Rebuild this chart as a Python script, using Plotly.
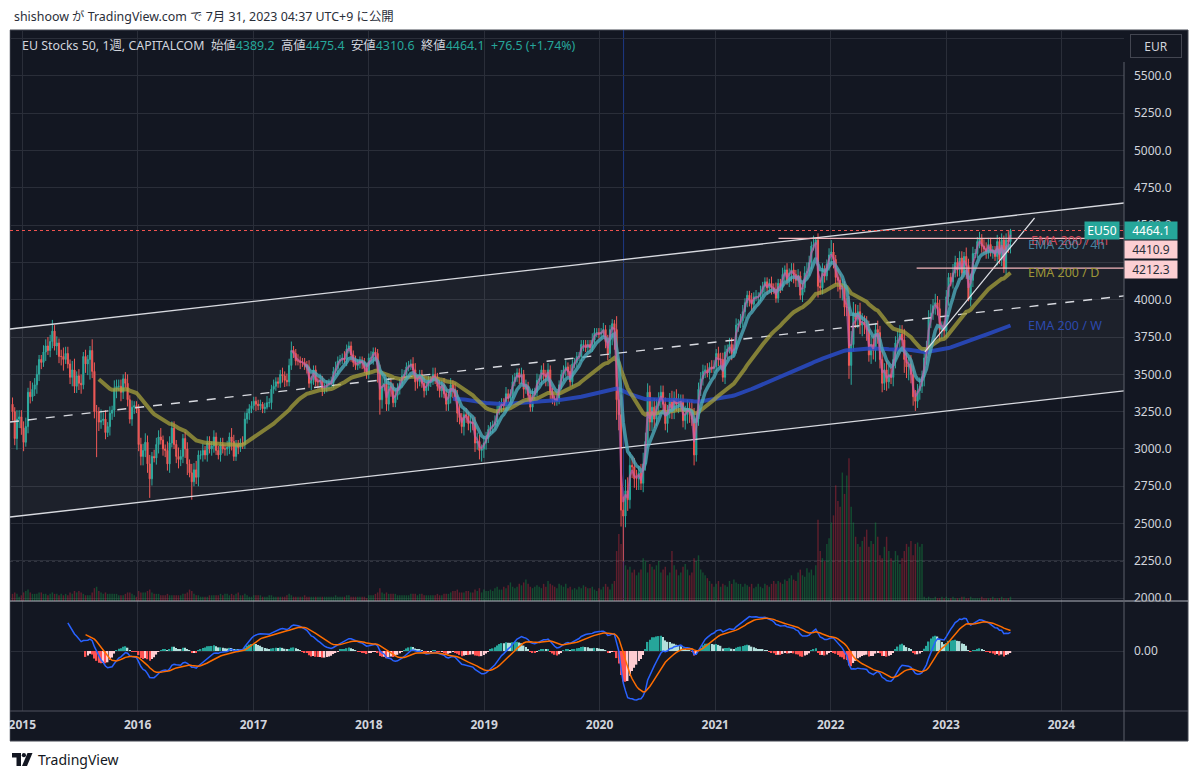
import numpy as np
import pandas as pd
import plotly.graph_objects as go

# EU Stocks 50, CAPITALCOM, weekly closes (Dec 2014 .. Jul 2023)
close_2014 = [3250, 3070, 3200, 3215, 3140]
close_2015 = [3045, 3150, 3380, 3350, 3400, 3430, 3500, 3600, 3580, 3650,
              3690, 3660, 3720, 3790, 3690, 3710, 3620, 3620, 3600, 3640,
              3570, 3480, 3530, 3420, 3490, 3440, 3430, 3620, 3570, 3600,
              3660, 3520, 3250, 3250, 3180, 3190, 3200, 3110, 3150, 3240,
              3260, 3400, 3420, 3420, 3380, 3470, 3440, 3330, 3200, 3280,
              3290, 3270]
close_2016 = [3030, 2950, 2990, 3045, 2900, 2800, 2950, 2940, 3030, 3080,
              3060, 3000, 2990, 2900, 3040, 3140, 3030, 2950, 2930, 2950,
              3070, 3000, 2900, 2840, 2780, 2860, 2810, 2960, 2960, 2990,
              2960, 3040, 3000, 3020, 3080, 2990, 2960, 3030, 3000, 3000,
              3010, 3080, 3050, 2950, 3030, 3010, 3040, 3030, 3200, 3240,
              3270, 3290]
close_2017 = [3320, 3300, 3290, 3300, 3270, 3280, 3310, 3310, 3400, 3420,
              3450, 3440, 3500, 3490, 3460, 3450, 3560, 3660, 3640, 3590,
              3590, 3580, 3580, 3560, 3550, 3440, 3460, 3530, 3450, 3450,
              3460, 3400, 3410, 3430, 3440, 3440, 3520, 3540, 3590, 3600,
              3610, 3600, 3670, 3690, 3630, 3580, 3560, 3570, 3590, 3580,
              3540, 3500]
close_2018 = [3610, 3610, 3650, 3640, 3520, 3330, 3420, 3440, 3300, 3420,
              3410, 3310, 3360, 3410, 3440, 3490, 3500, 3550, 3560, 3570,
              3530, 3450, 3450, 3500, 3440, 3390, 3420, 3460, 3460, 3500,
              3480, 3420, 3390, 3430, 3370, 3300, 3350, 3430, 3400, 3350,
              3240, 3210, 3150, 3230, 3220, 3170, 3180, 3170, 3040, 3050,
              2990, 3000]
close_2019 = [3040, 3070, 3130, 3150, 3160, 3180, 3260, 3290, 3310, 3290,
              3370, 3340, 3370, 3450, 3480, 3510, 3480, 3500, 3400, 3420,
              3360, 3280, 3360, 3380, 3460, 3470, 3530, 3500, 3480, 3530,
              3380, 3330, 3320, 3330, 3430, 3500, 3530, 3550, 3520, 3450,
              3570, 3580, 3620, 3620, 3700, 3700, 3680, 3700, 3680, 3730,
              3780, 3780]
close_2020 = [3770, 3780, 3800, 3720, 3640, 3800, 3840, 3800, 3330, 3230,
              2590, 2550, 2720, 2660, 2890, 2880, 2800, 2800, 2840, 2770,
              2900, 3050, 3380, 3180, 3280, 3200, 3290, 3320, 3380, 3300,
              3170, 3250, 3330, 3260, 3340, 3300, 3310, 3320, 3190, 3230,
              3270, 3250, 3200, 2960, 3200, 3400, 3470, 3520, 3530, 3510,
              3550, 3540]
close_2021 = [3550, 3640, 3600, 3600, 3480, 3650, 3670, 3700, 3640, 3670,
              3830, 3840, 3860, 3920, 3980, 4030, 4000, 3970, 4020, 4020,
              4020, 4050, 4090, 4120, 4080, 4110, 4080, 4070, 4010, 4110,
              4090, 4170, 4200, 4130, 4180, 4200, 4170, 4130, 4160, 4030,
              4080, 4180, 4190, 4250, 4360, 4370, 4400, 4090, 4080, 4200,
              4160, 4240]
close_2022 = [4300, 4320, 4270, 4150, 4130, 4070, 4080, 3950, 3950, 3560,
              3700, 3910, 3870, 3920, 3830, 3850, 3830, 3800, 3630, 3700,
              3660, 3800, 3780, 3600, 3440, 3530, 3450, 3500, 3480, 3600,
              3710, 3730, 3770, 3730, 3600, 3550, 3570, 3500, 3350, 3320,
              3390, 3420, 3480, 3610, 3680, 3870, 3910, 3960, 3980, 3940,
              3800, 3810]
close_2023 = [3790, 4020, 4150, 4120, 4180, 4250, 4200, 4280, 4180, 4290,
              4230, 4000, 4130, 4310, 4310, 4390, 4410, 4360, 4340, 4320,
              4370, 4320, 4330, 4290, 4390, 4270, 4400, 4210, 4400, 4389.2,
              4464.1]
first_open = 3300

# wick lengths beyond the body, one digit per week (x 15 points)
up_wick = ["32433",
           "3425 3342 2334 3523 2343 3245 2342 3225 4325 3423 2433 3234 2322",
           "2334 3423 3342 2433 3243 2332 4342 2323 3232 2332 3243 2223 3222",
           "2222 1232 2322 2323 3422 3222 2322 2232 2223 2322 2322 2232 2222",
           "2322 2353 2432 3223 2222 3322 2322 2332 3232 2323 3423 3232 3432",
           "3322 2322 2232 2322 2323 2232 3223 2322 2322 2323 2222 2222 2322",
           "2232 3225 6596 5664 4434 5443 3434 3333 3434 4334 4355 3333 2323",
           "3233 3323 3232 3322 2323 2322 2232 3223 2323 3232 2343 2453 3322",
           "3342 4343 4565 4344 3444 4343 4344 3434 4453 3443 3434 3443 4343",
           "3322 4323 3243 3322 3233 3322 3232 343"]
down_wick = ["43543",
             "4233 2343 3242 3324 3452 2343 3342 4593 3343 2324 3342 4323 2332",
             "3443 4532 3423 3342 2343 3452 3234 2323 2332 2323 3342 2322 2232",
             "2322 2212 3222 2332 2222 2322 3232 2323 2222 2232 2232 3222 2322",
             "2233 5342 3342 2232 2222 3432 2322 3232 3323 3342 4334 3343 4343",
             "4322 3222 3232 2222 3342 3222 2233 4432 2222 3322 2222 2322 2222",
             "2223 3279 9757 5545 4553 4334 4434 3334 3443 4434 4532 3333 3232",
             "2234 2332 3223 2332 3322 3223 3232 2232 3234 4332 3232 3265 3332",
             "3443 5454 4643 4445 4534 4554 4343 3445 4465 6443 3434 3343 4354",
             "3342 3233 3262 3322 3323 3232 4232 355"]

# notable weekly extremes (high, low)
extremes = {
    "2015-04-13": (3830, None), "2015-08-24": (None, 2945),
    "2016-02-08": (None, 2672), "2016-06-20": (None, 2660),
    "2018-02-05": (None, 3230), "2018-12-24": (None, 2915),
    "2020-02-17": (3865, None), "2020-03-09": (None, 2480),
    "2020-03-16": (None, 2250), "2020-10-26": (None, 2890),
    "2021-11-15": (4415, None), "2022-01-03": (4400, None),
    "2022-03-07": (None, 3430), "2022-09-26": (None, 3255),
    "2023-03-13": (None, 3990), "2023-07-24": (4475.4, 4310.6),
}

# volume (relative units, 100 = tallest bar)
vol_2014 = [5, 6, 5, 3, 4]
vol_2015 = [6, 7, 8, 6, 5, 5, 5, 6, 6, 5, 5, 4, 5, 6, 5, 5, 4, 5, 4, 5, 4, 6, 5, 7, 6, 7,
            6, 5, 4, 4, 4, 6, 9, 10, 7, 6, 5, 6, 5, 5, 5, 5, 5, 4, 4, 4, 5, 6, 6, 5, 4, 3]
vol_2016 = [7, 6, 6, 6, 7, 8, 6, 5, 5, 5, 4, 4, 4, 5, 4, 4, 4, 4, 4, 4, 5, 5, 6, 8, 7, 5,
            4, 4, 3, 3, 3, 3, 4, 4, 4, 4, 4, 5, 4, 5, 5, 4, 5, 4, 5, 6, 4, 4, 5, 4, 3, 3]
vol_2017 = [4, 4, 4, 4, 3, 3, 3, 4, 4, 3, 3, 3, 3, 3, 3, 4, 5, 4, 3, 3, 3, 3, 3, 4, 3, 3,
            3, 3, 3, 3, 3, 3, 3, 3, 3, 3, 3, 4, 3, 3, 3, 3, 4, 4, 3, 3, 3, 3, 3, 3, 3, 2]
vol_2018 = [4, 4, 4, 5, 6, 9, 6, 5, 6, 5, 5, 5, 5, 4, 4, 4, 4, 4, 4, 5, 5, 5, 4, 5, 5, 4,
            4, 4, 4, 4, 4, 5, 4, 4, 5, 5, 5, 6, 7, 7, 8, 6, 6, 6, 7, 7, 6, 6, 8, 7, 9, 6]
vol_2019 = [8, 7, 7, 8, 7, 9, 10, 8, 8, 10, 9, 11, 13, 10, 9, 10, 12, 11, 13, 15, 12, 10,
            9, 10, 11, 10, 9, 12, 10, 14, 12, 11, 10, 9, 12, 11, 10, 12, 9, 10, 8, 9, 8,
            10, 9, 11, 10, 9, 9, 10, 8, 7]
vol_2020 = [9, 8, 10, 12, 10, 8, 12, 14, 35, 47, 40, 28, 25, 22, 24, 20, 22, 18, 20, 22,
            30, 28, 20, 26, 24, 22, 25, 28, 20, 22, 24, 18, 20, 35, 25, 22, 18, 20, 24,
            26, 22, 18, 20, 30, 28, 32, 22, 20, 18, 16, 14, 12]
vol_2021 = [10, 12, 14, 10, 12, 11, 10, 14, 12, 15, 13, 12, 12, 10, 12, 11, 10, 12, 9,
            10, 12, 10, 9, 12, 11, 10, 12, 14, 12, 14, 13, 12, 15, 14, 16, 18, 15, 14,
            20, 22, 18, 17, 23, 20, 22, 18, 25, 57, 35, 30, 28, 40]
vol_2022 = [44, 55, 60, 81, 70, 66, 90, 75, 88, 100, 66, 55, 45, 40, 38, 42, 45, 50, 38,
            42, 40, 55, 45, 32, 30, 38, 45, 35, 30, 28, 35, 32, 26, 30, 35, 40, 38, 42,
            32, 40, 41, 38, 40, 3, 2, 3, 2, 2, 3, 2, 2, 3]
vol_2023 = [2, 3, 2, 2, 3, 2, 2, 2, 3, 3, 2, 2, 3, 2, 2, 2, 2, 3, 2, 2, 2, 2, 3, 2, 2, 2,
            3, 2, 2, 2, 3]

# drawings on the chart: (date, price) end points
channel_upper = [("2014-11-23", 3804), ("2024-07-17", 4649)]
channel_lower = [("2014-11-23", 2544), ("2024-07-17", 3389)]
channel_mid = [("2014-11-23", 3181), ("2024-07-17", 4026)]
trend_line = [("2022-10-26", 3650), ("2023-10-08", 4548)]
level_high = [("2021-07-20", 4410.9), ("2024-07-17", 4410.9)]
level_low = [("2022-09-30", 4212.3), ("2024-07-17", 4212.3)]
covid_line_date = "2020-03-17"
dotted_level = 2250
last_close = 4464.1

price_ticks = [2000, 2250, 2500, 2750, 3000, 3250, 3500, 3750, 4000, 4250, 4500,
               4750, 5000, 5250, 5500, 5750]
hidden_price_labels = [4250, 5750]   # covered by the price boxes / currency button
year_ticks = ["2015", "2016", "2017", "2018", "2019", "2020", "2021", "2022", "2023", "2024"]
x_range = ["2014-11-23", "2024-07-17"]
ema_1h_start = "2017-05-01"
ema_4h_start = "2017-06-12"

# ---------------------------------------------------------------------------
closes = np.array(close_2014 + close_2015 + close_2016 + close_2017 + close_2018 +
                  close_2019 + close_2020 + close_2021 + close_2022 + close_2023, float)
volume = np.array(vol_2014 + vol_2015 + vol_2016 + vol_2017 + vol_2018 + vol_2019 +
                  vol_2020 + vol_2021 + vol_2022 + vol_2023, float)
dates = pd.date_range("2014-12-01", periods=len(closes), freq="W-MON")

upw = np.array([int(c) for c in "".join(up_wick).replace(" ", "")]) * 15.0
dnw = np.array([int(c) for c in "".join(down_wick).replace(" ", "")]) * 15.0

opens = np.r_[first_open, closes[:-1]]
highs = np.maximum(opens, closes) + upw
lows = np.minimum(opens, closes) - dnw
for d, (h, l) in extremes.items():
    i = dates.get_loc(pd.Timestamp(d))
    if h is not None:
        highs[i] = h
    if l is not None:
        lows[i] = l


def ema(values, span, start, seed="sma"):
    out = np.full(len(values), np.nan)
    a = 2.0 / (span + 1)
    out[start] = np.mean(values[start - span + 1:start + 1]) if seed == "sma" else values[start]
    for i in range(start + 1, len(values)):
        out[i] = a * values[i] + (1 - a) * out[i - 1]
    return out


ema_w = ema(closes, 200, 199)
ema_d = ema(closes, 40, 39)
ema_4h = ema(closes, 8, dates.get_loc(pd.Timestamp(ema_4h_start)), seed="first")
ema_1h = ema(closes, 2, dates.get_loc(pd.Timestamp(ema_1h_start)), seed="first")

# MACD 12 / 26 / 9
macd = ema(closes, 12, 11) - ema(closes, 26, 25)
signal = np.full(len(closes), np.nan)
signal[25:] = ema(macd[25:], 9, 8)
hist = macd - signal
hist_colors = []
for i, h in enumerate(hist):
    prev = hist[i - 1] if i > 0 else np.nan
    if np.isnan(h):
        hist_colors.append("rgba(0,0,0,0)")
    elif h >= 0:
        hist_colors.append("#26a69a" if (np.isnan(prev) or h > prev) else "#b2dfdb")
    else:
        hist_colors.append("#ff5252" if (np.isnan(prev) or h < prev) else "#ffcdd2")

# pixel helpers for the page furniture (plot area is x 10..1124, y 30..711)
L, R, T, B = 10, 1124, 30, 711
SPLIT = 601


def px(x):
    return (x - L) / (R - L)


def py(y):
    return (B - y) / (B - T)


BG = "#131722"
GRID = "#2a2e39"
FONT = "Noto Sans, Noto Sans CJK JP, sans-serif"

fig = go.Figure()

# channel background
fig.add_trace(go.Scatter(
    x=[channel_upper[0][0], channel_upper[1][0], channel_lower[1][0], channel_lower[0][0]],
    y=[channel_upper[0][1], channel_upper[1][1], channel_lower[1][1], channel_lower[0][1]],
    fill="toself", fillcolor="rgba(255,255,255,0.045)", line=dict(width=0),
    mode="lines", hoverinfo="skip"))

# volume
vol_colors = ["rgba(20,150,70,0.42)" if c >= o else "rgba(200,40,60,0.42)"
              for o, c in zip(opens, closes)]
fig.add_trace(go.Bar(x=dates, y=volume, yaxis="y2", marker=dict(color=vol_colors, line=dict(width=0)),
                     hoverinfo="skip"))

# channel lines
for pts, dash in [(channel_upper, "solid"), (channel_lower, "solid"), (channel_mid, "dash")]:
    fig.add_trace(go.Scatter(x=[p[0] for p in pts], y=[p[1] for p in pts], mode="lines",
                             line=dict(color="#d8dae0", width=1.4, dash=dash), hoverinfo="skip"))

fig.add_trace(go.Candlestick(
    x=dates, open=opens, high=highs, low=lows, close=closes,
    increasing=dict(line=dict(color="#26a69a", width=1), fillcolor="#26a69a"),
    decreasing=dict(line=dict(color="#ef5350", width=1), fillcolor="#ef5350"),
    whiskerwidth=0, hoverinfo="skip"))

fig.add_trace(go.Scatter(x=dates, y=ema_w, mode="lines",
                         line=dict(color="rgba(41,75,200,0.85)", width=4), hoverinfo="skip"))
fig.add_trace(go.Scatter(x=dates, y=ema_d, mode="lines",
                         line=dict(color="rgba(170,165,60,0.72)", width=4), hoverinfo="skip"))
fig.add_trace(go.Scatter(x=dates, y=ema_4h, mode="lines",
                         line=dict(color="rgba(77,170,186,0.8)", width=3.5), hoverinfo="skip"))
fig.add_trace(go.Scatter(x=dates, y=ema_1h, mode="lines",
                         line=dict(color="rgba(206,92,170,0.65)", width=2), hoverinfo="skip"))

# trend line and levels
fig.add_trace(go.Scatter(x=[p[0] for p in trend_line], y=[p[1] for p in trend_line], mode="lines",
                         line=dict(color="#e0e2e8", width=1.2), hoverinfo="skip"))
for pts in (level_high, level_low):
    fig.add_trace(go.Scatter(x=[p[0] for p in pts], y=[p[1] for p in pts], mode="lines",
                             line=dict(color="#f4b6bc", width=1.3), hoverinfo="skip"))

# MACD pane
fig.add_trace(go.Bar(x=dates, y=hist, yaxis="y3", marker=dict(color=hist_colors, line=dict(width=0)),
                     hoverinfo="skip"))
fig.add_trace(go.Scatter(x=dates, y=macd, yaxis="y3", mode="lines",
                         line=dict(color="#2962ff", width=1.5), hoverinfo="skip"))
fig.add_trace(go.Scatter(x=dates, y=signal, yaxis="y3", mode="lines",
                         line=dict(color="#ff6d00", width=1.5), hoverinfo="skip"))

# MACD scale: deepest trough sits ~49 px under the zero line
mn = np.nanmin(np.r_[macd, signal])
ppu = 49.0 / -mn
macd_range = [-(B - 651) / ppu, (651 - SPLIT) / ppu]

shapes = [
    # dark chart frame incl. price and time axes
    dict(type="rect", xref="paper", yref="paper", x0=px(10), x1=px(1188), y0=py(741), y1=py(30),
         fillcolor=BG, line=dict(color="#434651", width=1), layer="below"),
    # covid vertical marker
    dict(type="line", xref="x", yref="paper", x0=covid_line_date, x1=covid_line_date,
         y0=py(SPLIT), y1=1, line=dict(color="rgba(41,98,255,0.45)", width=1), layer="between"),
    # dotted level
    dict(type="line", xref="paper", yref="y", x0=0, x1=1, y0=dotted_level, y1=dotted_level,
         line=dict(color="#6a6d78", width=1, dash="dot"), layer="between"),
    # last close line
    dict(type="line", xref="paper", yref="y", x0=0, x1=1, y0=last_close, y1=last_close,
         line=dict(color="#ef5350", width=1, dash="dot"), layer="above"),
    # mask for the clipped 2000.0 label
    dict(type="rect", xref="paper", yref="paper", x0=px(1125), x1=px(1187), y0=py(609), y1=py(601.5),
         fillcolor=BG, line=dict(width=0), layer="above"),
    # pane separators and price-axis border
    dict(type="line", xref="paper", yref="paper", x0=px(10), x1=px(1188), y0=py(SPLIT), y1=py(SPLIT),
         line=dict(color="#b2b5be", width=1), layer="above"),
    dict(type="line", xref="paper", yref="paper", x0=px(10), x1=px(1188), y0=py(711), y1=py(711),
         line=dict(color="#50535e", width=1), layer="above"),
    dict(type="line", xref="paper", yref="paper", x0=px(1124), x1=px(1124), y0=py(741), y1=py(62),
         line=dict(color="#5d606b", width=1), layer="above"),
    # white margin on the left (clips the 2015 label like the screenshot)
    dict(type="rect", xref="paper", yref="paper", x0=px(-2), x1=px(9.5), y0=py(779), y1=py(0),
         fillcolor="white", line=dict(width=0), layer="above"),
    # TradingView logo
    dict(type="rect", xref="paper", yref="paper", x0=px(12), x1=px(21), y0=py(757.5), y1=py(753),
         fillcolor="#131722", line=dict(width=0)),
    dict(type="rect", xref="paper", yref="paper", x0=px(16.5), x1=px(21), y0=py(766), y1=py(753),
         fillcolor="#131722", line=dict(width=0)),
    dict(type="circle", xref="paper", yref="paper", x0=px(21.8), x1=px(26.0), y0=py(757.3), y1=py(753.1),
         fillcolor="#131722", line=dict(width=0)),
    dict(type="path", xref="paper", yref="paper",
         path=f"M {px(27.5)} {py(753)} L {px(32.5)} {py(753)} L {px(27)} {py(766)} L {px(22)} {py(766)} Z",
         fillcolor="#131722", line=dict(width=0)),
]

teal = "#26a69a"
grey = "#d1d4dc"
legend_text = (f"<span style='color:{grey}'>EU Stocks 50, 1週, CAPITALCOM  始値</span>"
               f"<span style='color:{teal}'>4389.2</span>"
               f"<span style='color:{grey}'>  高値</span><span style='color:{teal}'>4475.4</span>"
               f"<span style='color:{grey}'>  安値</span><span style='color:{teal}'>4310.6</span>"
               f"<span style='color:{grey}'>  終値</span><span style='color:{teal}'>4464.1</span>"
               f"<span style='color:{teal}'>  +76.5 (+1.74%)</span>")

label_x = "2023-09-11"
annotations = [
    dict(xref="paper", yref="paper", x=px(12), y=py(16), xanchor="left", yanchor="middle",
         text="shishoow が TradingView.com で 7月 31, 2023 04:37 UTC+9 に公開",
         showarrow=False, font=dict(family=FONT, size=12.4, color="#2a2e39")),
    dict(xref="paper", yref="paper", x=px(20), y=py(46), xanchor="left", yanchor="middle",
         text=legend_text, showarrow=False, font=dict(family=FONT, size=12.4)),
    dict(xref="paper", yref="paper", x=px(1156), y=py(46), xanchor="center", yanchor="middle",
         text="EUR", showarrow=False, font=dict(family=FONT, size=12, color=grey),
         bordercolor="#434651", borderwidth=1, borderpad=3, width=44, height=16, bgcolor=BG),
    dict(xref="paper", yref="paper", x=px(36), y=py(760), xanchor="left", yanchor="middle",
         text="TradingView", showarrow=False, font=dict(family=FONT, size=14, color="#131722")),
    # EMA labels
    dict(xref="x", yref="y", x=label_x, y=ema_4h[-1], xanchor="left", yanchor="middle", xshift=3,
         yshift=4, text="EMA 200 / 1h", showarrow=False,
         font=dict(family=FONT, size=12.5, color="#d2485a")),
    dict(xref="x", yref="y", x=label_x, y=ema_4h[-1], xanchor="left", yanchor="middle",
         text="EMA 200 / 4h", showarrow=False,
         font=dict(family=FONT, size=12.5, color="rgba(79,143,174,0.9)")),
    dict(xref="x", yref="y", x=label_x, y=ema_d[-1], xanchor="left", yanchor="middle",
         text="EMA 200 / D", showarrow=False, font=dict(family=FONT, size=12.5, color="#9d9638")),
    dict(xref="x", yref="y", x=label_x, y=ema_w[-1], xanchor="left", yanchor="middle",
         text="EMA 200 / W", showarrow=False, font=dict(family=FONT, size=12.5, color="#2c49ad")),
    # price-scale labels
    dict(xref="paper", yref="y", x=px(1102), y=last_close, xanchor="center", yanchor="middle",
         text="EU50", showarrow=False, font=dict(family=FONT, size=12, color="white"),
         bgcolor=teal, borderpad=1, width=32, height=15),
    dict(xref="paper", yref="y", x=px(1151), y=last_close, xanchor="center", yanchor="middle",
         text="4464.1", showarrow=False, font=dict(family=FONT, size=12, color="white"),
         bgcolor=teal, borderpad=1, width=50, height=15),
    dict(xref="paper", yref="y", x=px(1151), y=level_high[0][1], xanchor="center", yanchor="middle",
         yshift=-11, text="4410.9", showarrow=False, font=dict(family=FONT, size=12, color="#2a2e39"),
         bgcolor="#fccfd3", borderpad=1, width=50, height=15),
    dict(xref="paper", yref="y", x=px(1151), y=level_low[0][1], xanchor="center", yanchor="middle",
         yshift=-1, text="4212.3", showarrow=False, font=dict(family=FONT, size=12, color="#2a2e39"),
         bgcolor="#fccfd3", borderpad=1, width=50, height=15),
]

price_text = ["" if t in hidden_price_labels else f"{t:.1f}" for t in price_ticks]

fig.update_layout(
    width=1200, height=779,
    margin=dict(l=L, r=1200 - R, t=T, b=779 - B),
    paper_bgcolor="white", plot_bgcolor=BG,
    showlegend=False, bargap=0.35, hovermode=False,
    font=dict(family=FONT, color=grey),
    xaxis=dict(type="date", range=x_range, anchor="y3", rangeslider=dict(visible=False),
               tickvals=[f"{y}-01-01" for y in year_ticks], ticktext=year_ticks,
               showgrid=True, gridcolor=GRID, zeroline=False, showline=False, ticks="",
               tickfont=dict(family=FONT, size=12, color=grey, weight="bold"),
               ticklabelstandoff=5),
    yaxis=dict(domain=[py(SPLIT), 1], side="right", range=[1981, 5808], anchor="x",
               tickvals=price_ticks, ticktext=price_text, showgrid=True, gridcolor=GRID,
               zeroline=False, showline=False, ticks="", ticklabelstandoff=9,
               tickfont=dict(family=FONT, size=12, color=grey)),
    yaxis2=dict(overlaying="y", range=[0, 400], visible=False),
    yaxis3=dict(domain=[0, py(SPLIT)], side="right", range=macd_range, anchor="x",
                tickvals=[0], tickformat=".2f", showgrid=True, gridcolor=GRID,
                zeroline=False, showline=False, ticks="", ticklabelstandoff=9,
                tickfont=dict(family=FONT, size=12, color=grey)),
    shapes=shapes, annotations=annotations,
)

# the page is photographed edge to edge, so drop the browser's default body margin
fig.write_html("out.html", config={"displayModeBar": False},
               post_script="document.body.style.margin='0px';")
